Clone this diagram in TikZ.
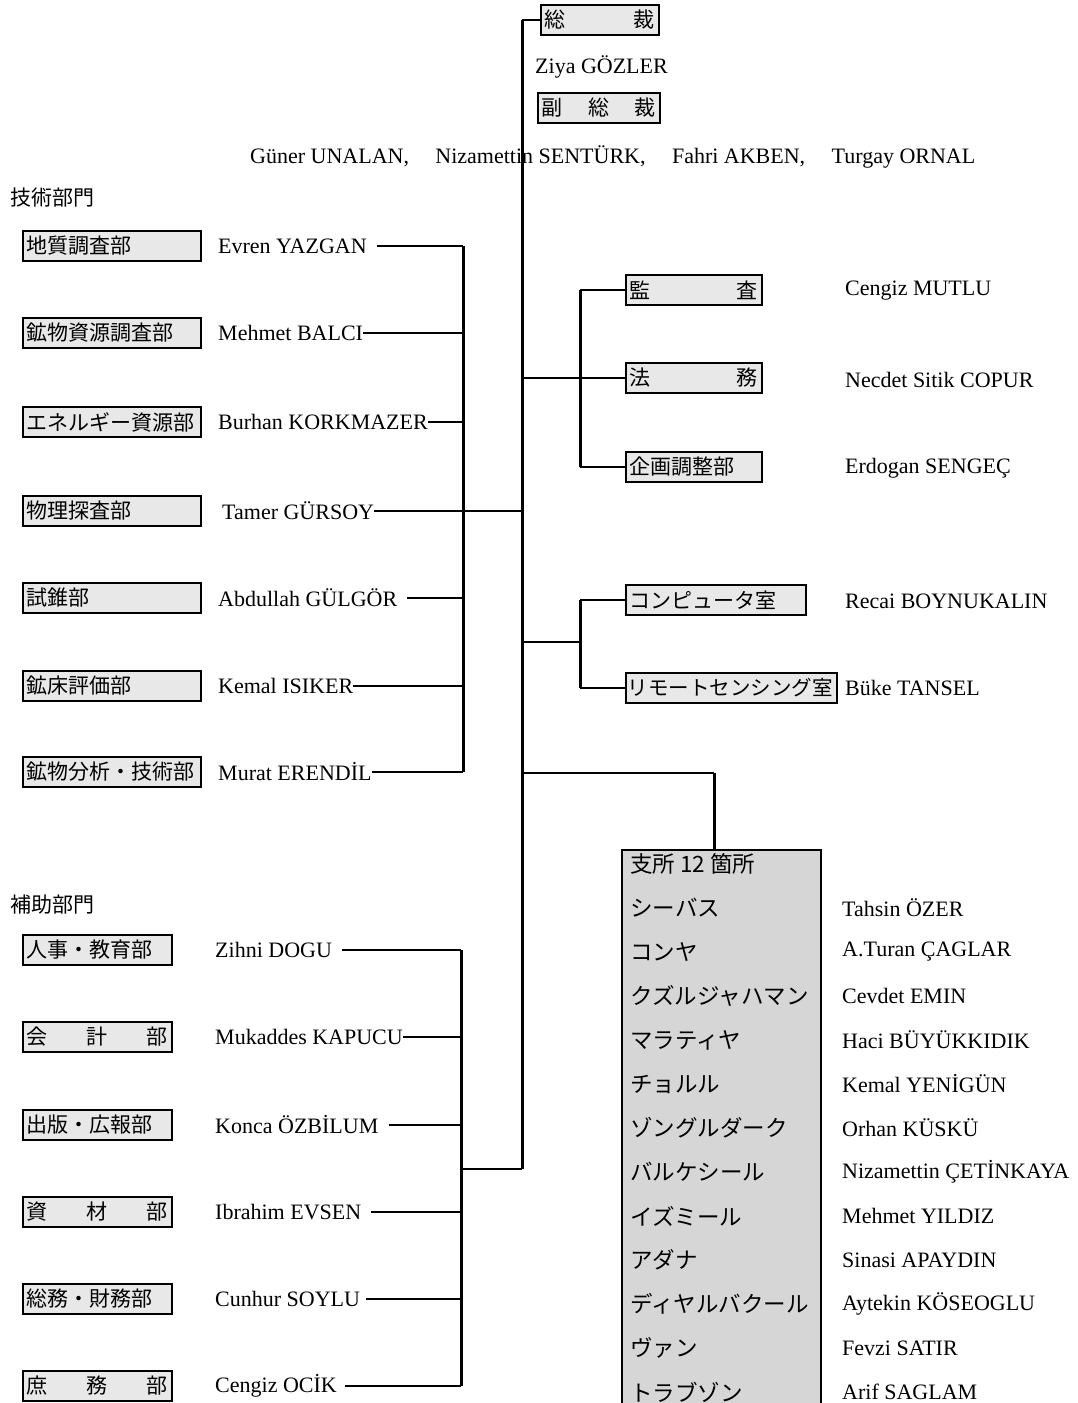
\documentclass[tikz,border=0pt]{standalone}
\usepackage{fontspec}
\setmainfont{Liberation Serif}
\newfontfamily\jpfont{Noto Sans CJK JP}
\begin{document}
\begin{tikzpicture}[x=1pt,y=-1pt]
\tikzset{
 box/.style={draw, line width=1.6pt, fill=gray!18, inner xsep=4pt, inner ysep=2pt,
   minimum height=30pt, anchor=west, align=left, font=\jpfont\fontsize{21}{24}\selectfont},
 brbox/.style={draw, line width=1.8pt, fill=gray!32, anchor=north west, minimum width=199pt, minimum height=620pt, inner sep=0pt},
 brtx/.style={anchor=west, inner sep=0pt, font=\jpfont\fontsize{22.5}{25}\selectfont},
 nm/.style={anchor=west, inner sep=0pt, font=\fontsize{22}{26}\selectfont},
 hd/.style={anchor=west, inner sep=0pt, font=\jpfont\fontsize{21}{24}\selectfont},
 trunk/.style={line width=3pt},
 twig/.style={line width=1.2pt},
}
\useasboundingbox (0,0) rectangle (1078,1403);
\clip (0,0) rectangle (1078,1403);
\fill[white] (0,0) rectangle (1078,1403);

% ---- top ----
\node[box, text width=110pt] (pres) at (540,20) {総\hfill 裁};
\node[nm] (ziya) at (535,67) {Ziya GÖZLER};
\node[box, text width=114pt] (vpres) at (537,108) {副\hfill 総\hfill 裁};
\node[nm] (vpnames) at (250,157) {Güner UNALAN,\hspace{1.2em}Nizamettin SENTÜRK,\hspace{1.2em}Fahri AKBEN,\hspace{1.2em}Turgay ORNAL};

% ---- technical ----
\node[hd] (tech) at (10,198) {技術部門};
\node[box, text width=170pt] (t1) at (22,246) {地質調査部};
\node[box, text width=170pt] (t2) at (22,333) {鉱物資源調査部};
\node[box, text width=170pt] (t3) at (22,422) {エネルギー資源部};
\node[box, text width=170pt] (t4) at (22,511) {物理探査部};
\node[box, text width=170pt] (t5) at (22,598) {試錐部};
\node[box, text width=170pt] (t6) at (22,686) {鉱床評価部};
\node[box, text width=170pt] (t7) at (22,772) {鉱物分析・技術部};
\node[nm] (tn1) at (218,246) {Evren YAZGAN};
\node[nm] (tn2) at (218,333) {Mehmet BALCI};
\node[nm] (tn3) at (218,422) {Burhan KORKMAZER};
\node[nm] (tn4) at (222,511) {Tamer GÜRSOY};
\node[nm] (tn5) at (218,598) {Abdullah GÜLGÖR};
\node[nm] (tn6) at (218,686) {Kemal ISIKER};
\node[nm] (tn7) at (218,772) {Murat ERENDİL};
\coordinate (tb1) at (463,246);
\coordinate (tb7) at (463,772);

% ---- staff ----
\node[box, text width=128pt] (s1) at (625,290) {監\hfill 査};
\node[box, text width=128pt] (s2) at (625,378) {法\hfill 務};
\node[box, text width=128pt] (s3) at (625,467) {企画調整部};
\node[nm] (sn1) at (845,291) {Cengiz MUTLU};
\node[nm] (sn2) at (845,380) {Necdet Sitik COPUR};
\node[nm] (sn3) at (845,468) {Erdogan SENGEÇ};
\node[box, text width=172pt] (c1) at (625,600) {コンピュータ室};
\node[box, text width=207pt, inner xsep=2pt, font=\jpfont\fontsize{20.5}{24}\selectfont] (c2) at (625,688) {リモートセンシング室};
\node[nm] (cn1) at (845,601) {Recai BOYNUKALIN};
\node[nm] (cn2) at (845,688) {Büke TANSEL};

% ---- support ----
\node[hd] (supp) at (10,905) {補助部門};
\node[box, text width=141pt] (u1) at (22,950) {人事・教育部};
\node[box, text width=141pt] (u2) at (22,1037) {会\hfill 計\hfill 部\hspace*{12pt}};
\node[box, text width=141pt] (u3) at (22,1125) {出版・広報部};
\node[box, text width=141pt] (u4) at (22,1212) {資\hfill 材\hfill 部\hspace*{12pt}};
\node[box, text width=141pt] (u5) at (22,1299) {総務・財務部};
\node[box, text width=141pt] (u6) at (22,1386) {庶\hfill 務\hfill 部\hspace*{12pt}};
\node[nm] (un1) at (215,950) {Zihni DOGU};
\node[nm] (un2) at (215,1037) {Mukaddes KAPUCU};
\node[nm] (un3) at (215,1125) {Konca ÖZBİLUM};
\node[nm] (un4) at (215,1212) {Ibrahim EVSEN};
\node[nm] (un5) at (215,1299) {Cunhur SOYLU};
\node[nm] (un6) at (215,1386) {Cengiz OCİK};
\coordinate (ub1) at (461,950);
\coordinate (ub6) at (461,1386);

% ---- branches ----
\node[brbox] (br) at (621,849) {};
\node[brtx] (b0) at (630,864) {支所 12 箇所};
\node[brtx] (b1) at (630,908) {シーバス};
\node[brtx] (b2) at (630,952) {コンヤ};
\node[brtx] (b3) at (630,996) {クズルジャハマン};
\node[brtx] (b4) at (630,1040) {マラティヤ};
\node[brtx] (b5) at (630,1084) {チョルル};
\node[brtx] (b6) at (630,1128) {ゾングルダーク};
\node[brtx] (b7) at (630,1172) {バルケシール};
\node[brtx] (b8) at (630,1216) {イズミール};
\node[brtx] (b9) at (630,1260) {アダナ};
\node[brtx] (b10) at (630,1304) {ディヤルバクール};
\node[brtx] (b11) at (630,1348) {ヴァン};
\node[brtx] (b12) at (630,1392) {トラブゾン};
\node[nm] (bn1) at (842,908) {Tahsin ÖZER};
\node[nm] (bn2) at (842,952) {A.Turan ÇAGLAR};
\node[nm] (bn3) at (842,996) {Cevdet EMIN};
\node[nm] (bn4) at (842,1040) {Haci BÜYÜKKIDIK};
\node[nm] (bn5) at (842,1084) {Kemal YENİGÜN};
\node[nm] (bn6) at (842,1128) {Orhan KÜSKÜ};
\node[nm] (bn7) at (842,1172) {Nizamettin ÇETİNKAYA};
\node[nm] (bn8) at (842,1216) {Mehmet YILDIZ};
\node[nm] (bn9) at (842,1260) {Sinasi APAYDIN};
\node[nm] (bn10) at (842,1304) {Aytekin KÖSEOGLU};
\node[nm] (bn11) at (842,1348) {Fevzi SATIR};
\node[nm] (bn12) at (842,1392) {Arif SAGLAM};

% ---- main trunk ----
\coordinate (mtop) at (522,20);
\coordinate (mbot) at (522,1169);
\draw[trunk] (mtop) -- (mbot);
\draw[line width=1.6pt] (mtop) -- (pres.west);

% technical bracket
\draw[trunk] (tb1) -- (tb7);
\draw[twig] ([xshift=10pt]tn1.east) -- (tn1.east -| tb1);
\draw[twig] (tn2.east) -- (tn2.east -| tb1);
\draw[twig] (tn3.east) -- (tn3.east -| tb1);
\draw[twig] (tn4.east) -- (tn4.east -| tb1);
\draw[twig] ([xshift=10pt]tn5.east) -- (tn5.east -| tb1);
\draw[twig] (tn6.east) -- (tn6.east -| tb1);
\draw[twig] (tn7.east) -- (tn7.east -| tb1);
\draw[twig] (tn4.east -| tb1) -- (tn4.east -| mtop);

% staff bracket
\coordinate (sb1) at (580,290);
\coordinate (sb3) at (580,467);
\draw[trunk] (sb1) -- (sb3);
\draw[twig] (sb1) -- (s1.west);
\draw[twig] (sb3) -- (s3.west);
\draw[twig] (s2.west -| mtop) -- (s2.west);

% computer bracket
\coordinate (cb1) at (580,600);
\coordinate (cb2) at (580,688);
\draw[trunk] (cb1) -- (cb2);
\draw[twig] (cb1) -- (c1.west);
\draw[twig] (cb2) -- (c2.west);
\draw[twig] (522,642) -- (580,642);

% branches
\coordinate (bj) at (714,773);
\draw[twig] (bj -| mtop) -- (bj);
\draw[trunk] (bj) -- (bj |- br.north);

% support bracket
\draw[trunk] (ub1) -- (ub6);
\draw[twig] ([xshift=10pt]un1.east) -- (un1.east -| ub1);
\draw[twig] (un2.east) -- (un2.east -| ub1);
\draw[twig] ([xshift=10pt]un3.east) -- (un3.east -| ub1);
\draw[twig] ([xshift=10pt]un4.east) -- (un4.east -| ub1);
\draw[twig] ([xshift=6pt]un5.east) -- (un5.east -| ub1);
\draw[twig] ([xshift=8pt]un6.east) -- (un6.east -| ub1);
\draw[twig] (mbot -| ub1) -- (mbot);
\end{tikzpicture}
\end{document}
